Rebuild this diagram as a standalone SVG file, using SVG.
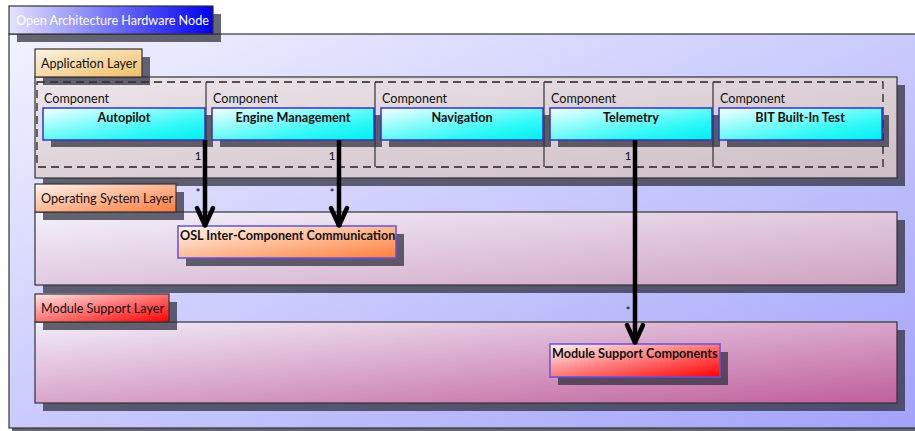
<svg xmlns="http://www.w3.org/2000/svg" width="915" height="431" viewBox="0 0 915 431">
<style>
text{font-family:Lato,"Liberation Sans",sans-serif;font-size:12.6px;fill:#111}
.b{font-weight:bold}
.c{text-anchor:middle}
.sh{fill:#2c2c3c;fill-opacity:0.72}
.ln{stroke:#333;stroke-width:1.2}
.box{stroke:#3333cc;stroke-width:1.5}
.node{stroke:#6650e0;stroke-width:1.5}
.lbl{font-size:12px}
.conn{stroke:#000;stroke-width:4.5;fill:none}
</style>
<defs>
<linearGradient id="gOT" x1="0" y1="0" x2="1" y2="0"><stop offset="0" stop-color="#e4e4ff"/><stop offset="1" stop-color="#0000ee"/></linearGradient>
<linearGradient id="gOB" x1="0" y1="0" x2="1" y2="1"><stop offset="0" stop-color="#f2f2ff"/><stop offset="1" stop-color="#a2a2fa"/></linearGradient>
<linearGradient id="gAT" x1="0" y1="0" x2="1" y2="1"><stop offset="0" stop-color="#fdf3e2"/><stop offset="1" stop-color="#f0bd66"/></linearGradient>
<linearGradient id="gAB" x1="0" y1="0" x2="1" y2="1"><stop offset="0" stop-color="#ede6ea"/><stop offset="1" stop-color="#cdbdc4"/></linearGradient>
<linearGradient id="gST" x1="0" y1="0" x2="1" y2="1"><stop offset="0" stop-color="#fff4ee"/><stop offset="1" stop-color="#ff7a3a"/></linearGradient>
<linearGradient id="gSB" x1="0" y1="0" x2="1" y2="1"><stop offset="0" stop-color="#f3f1fb"/><stop offset="1" stop-color="#cfa2c2"/></linearGradient>
<linearGradient id="gMT" x1="0" y1="0" x2="1" y2="1"><stop offset="0" stop-color="#ffe6e6"/><stop offset="1" stop-color="#ff0000"/></linearGradient>
<linearGradient id="gMB" x1="0" y1="0" x2="1" y2="1"><stop offset="0" stop-color="#f1edf9"/><stop offset="1" stop-color="#c05e9c"/></linearGradient>
<linearGradient id="gC" x1="0" y1="0" x2="1" y2="1"><stop offset="0" stop-color="#f4ffff"/><stop offset="0.7" stop-color="#2cf8f8"/><stop offset="1" stop-color="#00f0f0"/></linearGradient>
<linearGradient id="gON" x1="0" y1="0" x2="1" y2="1"><stop offset="0" stop-color="#fff6ee"/><stop offset="1" stop-color="#ff7f3c"/></linearGradient>
<linearGradient id="gMN" x1="0" y1="0" x2="1" y2="1"><stop offset="0" stop-color="#fff4f4"/><stop offset="1" stop-color="#ff0000"/></linearGradient>
<marker id="arr" markerUnits="userSpaceOnUse" viewBox="-24 -12 28 24" refX="0" refY="0" markerWidth="28" markerHeight="24" orient="auto" overflow="visible">
<path d="M-19,-8 L-1.5,0 L-19,8" fill="none" stroke="#000" stroke-width="4.5" stroke-linejoin="round" stroke-linecap="round"/>
</marker>
</defs>

<g id="node-hardware">
<rect class="sh" x="12" y="37" width="910" height="394"/>
<rect x="9" y="34" width="910" height="394" fill="url(#gOB)" class="ln"/>
<rect class="sh" x="17" y="14" width="204" height="28"/>
<rect x="9" y="6" width="204" height="28" fill="url(#gOT)" class="ln"/>
<text x="16" y="25" style="fill:#fff">Open Architecture Hardware Node</text>
</g>

<g id="layer-application">
<rect class="sh" x="43" y="85" width="862" height="101"/>
<rect x="35" y="77" width="862" height="101" fill="url(#gAB)" class="ln"/>
<rect x="37" y="82" width="846" height="85" fill="none" stroke="#222" stroke-width="1.3" stroke-dasharray="8,5"/>
<g stroke="#333" stroke-width="1.2">
<line x1="206" y1="82" x2="206" y2="167"/>
<line x1="375" y1="82" x2="375" y2="167"/>
<line x1="544" y1="82" x2="544" y2="167"/>
<line x1="713" y1="82" x2="713" y2="167"/>
</g>
<rect class="sh" x="43" y="57" width="107" height="28"/>
<rect x="35" y="49" width="107" height="28" fill="url(#gAT)" class="ln"/>
<text x="41" y="68">Application Layer</text>
</g>

<g id="comp-autopilot">
<text x="44" y="103">Component</text>
<rect class="sh" x="51" y="115" width="162" height="32"/>
<rect x="43" y="108" width="162" height="32" fill="url(#gC)" class="box"/>
<text x="124" y="122" class="b c">Autopilot</text>
</g>
<g id="comp-engine">
<text x="213" y="103">Component</text>
<rect class="sh" x="220" y="115" width="162" height="32"/>
<rect x="212" y="108" width="162" height="32" fill="url(#gC)" class="box"/>
<text x="293" y="122" class="b c">Engine Management</text>
</g>
<g id="comp-navigation">
<text x="382" y="103">Component</text>
<rect class="sh" x="389" y="115" width="162" height="32"/>
<rect x="381" y="108" width="162" height="32" fill="url(#gC)" class="box"/>
<text x="462" y="122" class="b c">Navigation</text>
</g>
<g id="comp-telemetry">
<text x="551" y="103">Component</text>
<rect class="sh" x="558" y="115" width="162" height="32"/>
<rect x="550" y="108" width="162" height="32" fill="url(#gC)" class="box"/>
<text x="631" y="122" class="b c">Telemetry</text>
</g>
<g id="comp-bit">
<text x="720" y="103">Component</text>
<rect class="sh" x="727" y="115" width="162" height="32"/>
<rect x="719" y="108" width="163" height="32" fill="url(#gC)" class="box"/>
<text x="800" y="122" class="b c">BIT Built-In Test</text>
</g>

<g id="layer-os">
<rect class="sh" x="43" y="220" width="862" height="73"/>
<rect x="35" y="212" width="862" height="73" fill="url(#gSB)" class="ln"/>
<rect class="sh" x="43" y="192" width="141" height="28"/>
<rect x="35" y="184" width="141" height="28" fill="url(#gST)" class="ln"/>
<text x="41" y="203">Operating System Layer</text>
</g>
<g id="node-osl">
<rect class="sh" x="186" y="234" width="218" height="32"/>
<rect x="178" y="226" width="218" height="32" fill="url(#gON)" class="node"/>
<text x="180" y="240" class="b">OSL Inter-Component Communication</text>
</g>

<g id="layer-module">
<rect class="sh" x="43" y="330" width="862" height="81"/>
<rect x="35" y="322" width="862" height="81" fill="url(#gMB)" class="ln"/>
<rect class="sh" x="43" y="302" width="134" height="28"/>
<rect x="35" y="294" width="134" height="28" fill="url(#gMT)" class="ln"/>
<text x="41" y="313">Module Support Layer</text>
</g>
<g id="node-msc">
<rect class="sh" x="558" y="352" width="170" height="33"/>
<rect x="550" y="344" width="170" height="33" fill="url(#gMN)" class="node"/>
<text x="552" y="358" class="b">Module Support Components</text>
</g>

<g id="connectors">
<line class="conn" x1="205" y1="140" x2="205" y2="227" marker-end="url(#arr)"/>
<line class="conn" x1="339" y1="140" x2="339" y2="227" marker-end="url(#arr)"/>
<line class="conn" x1="635" y1="140" x2="635" y2="344" marker-end="url(#arr)"/>
<text x="198" y="160" class="lbl c">1</text>
<text x="332" y="160" class="lbl c">1</text>
<text x="628" y="160" class="lbl c">1</text>
<text x="198" y="197" class="lbl c">*</text>
<text x="332" y="197" class="lbl c">*</text>
<text x="628" y="315" class="lbl c">*</text>
</g>
</svg>
